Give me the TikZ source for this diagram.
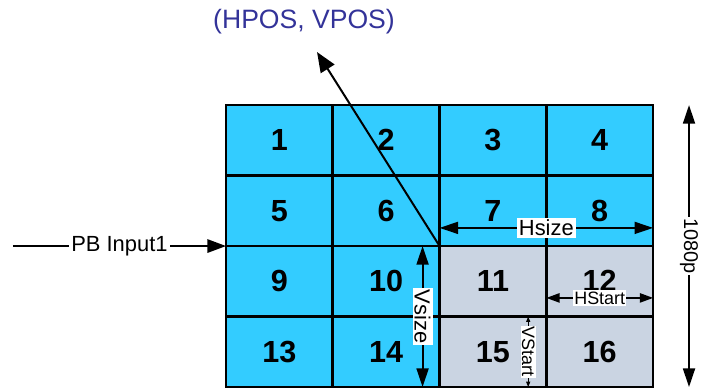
\documentclass[tikz,border=0pt]{standalone}
\usepackage{fontspec}
\setmainfont{Liberation Sans}
\usetikzlibrary{arrows.meta, calc}
\definecolor{cTile}{RGB}{51,204,255}
\definecolor{cWin}{RGB}{202,212,226}
\definecolor{cPos}{RGB}{51,51,153}

\begin{document}
\begin{tikzpicture}[
        cell/.style={rectangle, draw=black, line width=2pt, fill=cTile,
        minimum width=2.825cm, minimum height=1.865cm, inner sep=0pt, outer sep=0pt,
        font=\fontsize{23}{26}\selectfont\bfseries},
        win/.style={cell, fill=cWin},
        dim/.style={{Triangle[length=14pt, width=9pt]}-{Triangle[length=14pt, width=9pt]}, line width=1.5pt},
        smalldim/.style={{Triangle[length=10pt, width=7pt]}-{Triangle[length=10pt, width=7pt]}, line width=1.2pt},
        tinydim/.style={{Triangle[length=4pt, width=3pt]}-{Triangle[length=4pt, width=3pt]}, line width=0.8pt},
        arrow/.style={-{Triangle[length=14pt, width=10pt]}, line width=1.5pt},
        lbl/.style={fill=white, inner sep=1.5pt, font=\fontsize{16.5}{18}\selectfont},
        smalllbl/.style={fill=white, inner sep=1pt, font=\fontsize{13.5}{15}\selectfont}
    ]
        \useasboundingbox (-5.98,-0.106) rectangle (12.62,10.24);

        % --- 4x4 tiles ---
        \node[cell] (c1)  at (1.4125,6.5275) {1};
        \node[cell] (c2)  at (4.2375,6.5275) {2};
        \node[cell] (c3)  at (7.0625,6.5275) {3};
        \node[cell] (c4)  at (9.8875,6.5275) {4};
        \node[cell] (c5)  at (1.4125,4.6625) {5};
        \node[cell] (c6)  at (4.2375,4.6625) {6};
        \node[cell] (c7)  at (7.0625,4.6625) {7};
        \node[cell] (c8)  at (9.8875,4.6625) {8};
        \node[cell] (c9)  at (1.4125,2.7975) {9};
        \node[cell] (c10) at (4.2375,2.7975) {10};
        \node[win]  (c11) at (7.0625,2.7975) {11};
        \node[win]  (c12) at (9.8875,2.7975) {12};
        \node[cell] (c13) at (1.4125,0.9325) {13};
        \node[cell] (c14) at (4.2375,0.9325) {14};
        \node[win]  (c15) at (7.0625,0.9325) {15};
        \node[win]  (c16) at (9.8875,0.9325) {16};

        % --- window origin ---
        \node[text=cPos, font=\fontsize{20}{22}\selectfont] (pos) at (2.064,9.657) {(HPOS, VPOS)};
        \coordinate (postip) at (2.408,8.863);
        \draw[-{Triangle[length=15pt, width=12pt]}, line width=1.5pt] (c11.north west) -- (postip);

        % --- dimensions ---
        \draw[dim] ([yshift=4.8mm]c11.north west) -- ([yshift=4.8mm]c12.north east)
            node[midway, lbl] {Hsize};
        \draw[dim] ([xshift=-4.5mm]c10.north east) -- ([xshift=-4.5mm]c14.south east)
            node[midway, lbl, rotate=-90] {Vsize};
        \draw[smalldim] ([yshift=-4.4mm]c12.west) -- ([yshift=-4.4mm]c12.east)
            node[midway, smalllbl] {HStart};
        \draw[tinydim] ([xshift=-4.8mm]c15.north east) -- ([xshift=-4.8mm]c15.south east)
            node[midway, smalllbl, rotate=-90] {VStart};
        \draw[dim] ([xshift=9.5mm]c4.north east) -- ([xshift=9.5mm]c16.south east)
            node[midway, smalllbl, rotate=-90, font=\fontsize{15}{17}\selectfont] {1080p};

        % --- input ---
        \coordinate (pbin) at ($(c9.north west)+(-5.64,0)$);
        \draw[arrow] (pbin) -- (c9.north west) node[midway, lbl] {PB Input1};

    \end{tikzpicture}
\end{document}
